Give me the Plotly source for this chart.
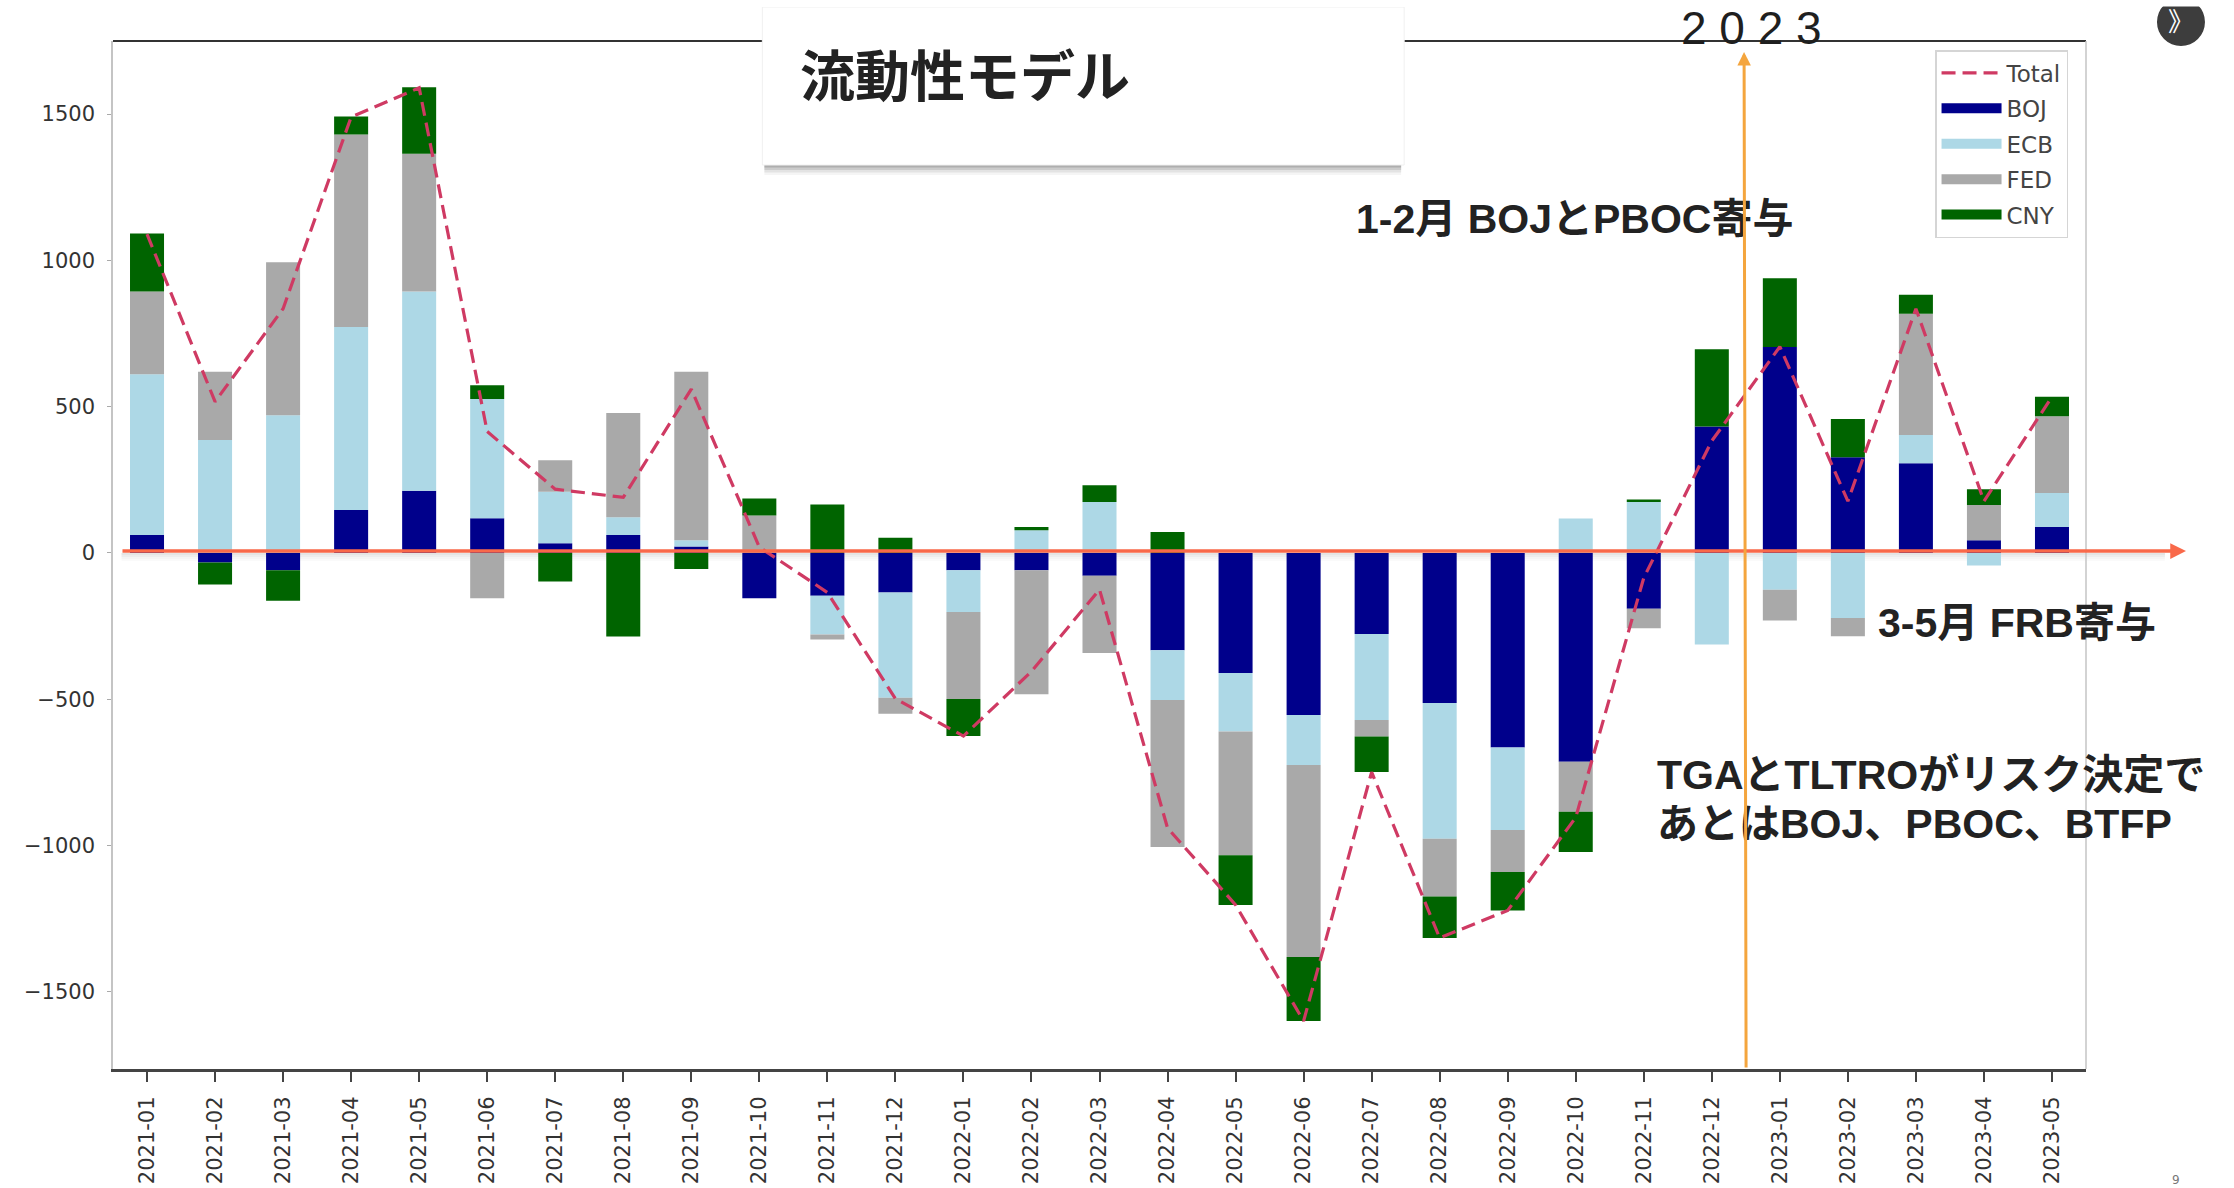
import plotly.graph_objects as go

months = ["2021-01","2021-02","2021-03","2021-04","2021-05","2021-06","2021-07","2021-08","2021-09","2021-10","2021-11","2021-12",
          "2022-01","2022-02","2022-03","2022-04","2022-05","2022-06","2022-07","2022-08","2022-09","2022-10","2022-11","2022-12",
          "2023-01","2023-02","2023-03","2023-04","2023-05"]
boj = [61,-33,-59,147,213,119,33,61,22,-155,-146,-135,-59,-59,-78,-333,-410,-554,-277,-513,-665,-714,-191,432,704,327,307,43,89]
ecb = [550,386,471,625,681,407,176,61,21,0,-133,-360,-143,78,174,-170,-200,-171,-294,-464,-282,118,174,-313,-126,-222,96,-43,116]
fed = [283,233,523,658,471,-155,108,356,576,128,-17,-55,-297,-424,-264,-502,-423,-656,-56,-197,-144,-171,-66,0,-105,-63,415,121,262]
cny = [198,-75,-104,62,227,47,-98,-286,-55,58,166,52,-127,11,57,72,-170,-219,-122,-142,-131,-137,9,264,235,131,65,54,67]
total = [1090,517,835,1490,1590,415,218,190,560,20,-135,-498,-626,-405,-125,-940,-1203,-1600,-749,-1316,-1222,-904,-85,383,705,177,835,177,534]
ytick_vals = [-1500,-1000,-500,0,500,1000,1500]
names = ["BOJ","ECB","FED","CNY"]
colors = ["#00008b","#add8e6","#a9a9a9","#006400"]
series = [boj,ecb,fed,cny]

W, H = 2234, 1188
L, R, T, B = 112.5, 2086, 41, 1069
px = lambda x: (x - L) / (R - L)
py = lambda y: (B - y) / (B - T)
LINE = "#cf3a63"
FONT = "Liberation Sans, Noto Sans CJK JP, sans-serif"

fig = go.Figure()
fig.add_trace(go.Scatter(x=months, y=total, name="Total", mode="lines", legendgroup="Total",
                         line=dict(color=LINE, width=3.2, dash="14px,7px")))
for n, c, s in zip(names, colors, series):
    fig.add_trace(go.Bar(x=months, y=s, name=n, marker=dict(color=c, line_width=0), width=0.5,
                         legendgroup=n, showlegend=False))
for n, c in zip(names, colors):
    fig.add_trace(go.Scatter(x=[None], y=[None], name=n, mode="lines", legendgroup=n,
                             line=dict(color=c, width=17)))

def rect(x0, y0, x1, y1, fill, layer="above", line=None):
    return dict(type="rect", xref="paper", yref="paper", x0=px(x0), x1=px(x1), y0=py(y0), y1=py(y1),
                fillcolor=fill, line=dict(width=0) if line is None else line, layer=layer)

shapes = []
# frame
shapes.append(dict(type="line", xref="paper", yref="paper", x0=px(L), x1=px(R), y0=py(T), y1=py(T), line=dict(color="#333333", width=2), layer="above"))
shapes.append(dict(type="line", xref="paper", yref="paper", x0=px(R), x1=px(R), y0=py(T), y1=py(B), line=dict(color="#c4c4c4", width=1.5), layer="above"))
# shadow of the zero arrow
for i, a in enumerate([0.10, 0.07, 0.04, 0.02]):
    shapes.append(rect(121, 553 + i * 2, 2165, 555 + i * 2, f"rgba(0,0,0,{a})", layer="below"))
# title box with soft shadow
for i, a in enumerate([0.04, 0.07, 0.10, 0.14]):
    off = 10 - i * 2.5
    shapes.append(rect(764, 150, 1401, 165 + off, f"rgba(0,0,0,{a})"))
shapes.append(rect(762, 7, 1404, 165, "white", line=dict(color="#f0f0f0", width=1)))
shapes.append(rect(0, 0, 1420, 7, "white"))
# corner button
shapes.append(dict(type="circle", xref="paper", yref="paper", x0=px(2157), x1=px(2205), y0=py(-2), y1=py(46), fillcolor="#3d3d3d", line_width=0, layer="above"))
shapes.append(rect(2140, -5, 2225, 6.5, "white"))

ann = []
def text(x, y, s, size, color="#222222", weight=None, anchor="left", family=FONT):
    ann.append(dict(xref="paper", yref="paper", x=px(x), y=py(y), text=s, showarrow=False, xanchor=anchor, yanchor="middle",
                    font=dict(size=size, color=color, family=family, weight=weight)))
text(798, 72, "流動性モデル", 55, "#222222", "bold", family="Noto Sans CJK JP")
text(1751, 28, "2 0 2 3", 46, "#1f1f1f", anchor="center", family="Liberation Sans")
text(1354, 219, "1-2月 BOJとPBOC寄与", 41, weight="bold")
text(1876, 623, "3-5月 FRB寄与", 41, weight="bold")
text(1655, 775, "TGAとTLTROがリスク決定で", 41, weight="bold")
text(1655, 824, "あとはBOJ、PBOC、BTFP", 41, weight="bold")
text(2181, 19, "》", 26, "white", anchor="center", family="Noto Sans CJK JP")
text(2176, 1180, "9", 12, "#777777", anchor="center", family="DejaVu Sans")
# zero arrow
ann.append(dict(xref="paper", yref="paper", x=px(2186), y=py(551), ax=121 - 2186, ay=0, axref="pixel", ayref="pixel",
                text="", showarrow=True, arrowhead=2, arrowsize=0.9, arrowwidth=3.5, arrowcolor="#f9694a"))
# 2023 arrow
ann.append(dict(xref="paper", yref="paper", x=px(1744), y=py(52), ax=2, ay=1069 - 52, axref="pixel", ayref="pixel",
                text="", showarrow=True, arrowhead=2, arrowsize=0.9, arrowwidth=3, arrowcolor="#f4a53e"))

fig.update_layout(
    width=W, height=H, margin=dict(l=L, r=W - R, t=T, b=H - B, pad=0, autoexpand=False),
    paper_bgcolor="white", plot_bgcolor="white", barmode="relative", showlegend=True,
    font=dict(family="DejaVu Sans", color="#333333"),
    shapes=shapes, annotations=ann,
    legend=dict(x=px(1935), y=py(50), xanchor="left", yanchor="top", bgcolor="white", bordercolor="#d5d5d5", borderwidth=1.5,
                font=dict(size=23, color="#444444", family="DejaVu Sans"), itemwidth=60, itemsizing="trace",
                tracegroupgap=2.5, traceorder="grouped"),
    xaxis=dict(type="category", categoryorder="array", categoryarray=months, range=[-0.5, 28.5], tickangle=-90,
               tickfont=dict(size=21, color="#333333"), ticks="outside", ticklen=10, tickwidth=2, tickcolor="#444444",
               ticklabelstandoff=6, showline=True, linecolor="#444444", linewidth=3, showgrid=False, zeroline=False, automargin=False),
    yaxis=dict(range=[-1764, 1750], tickvals=ytick_vals, tickfont=dict(size=21, color="#333333"), ticks="outside",
               ticklen=4, tickcolor="#aaaaaa", ticklabelstandoff=8, showline=True, linecolor="#c4c4c4", linewidth=1.5,
               showgrid=False, zeroline=False, automargin=False),
)
css = ("var s=document.documentElement.style,b=document.body.style;"
       "b.margin='0';b.height='1188px';b.overflow='hidden';s.height='1188px';s.overflow='hidden';")
fig.write_html("out.html", config=dict(displayModeBar=False), post_script=css)
